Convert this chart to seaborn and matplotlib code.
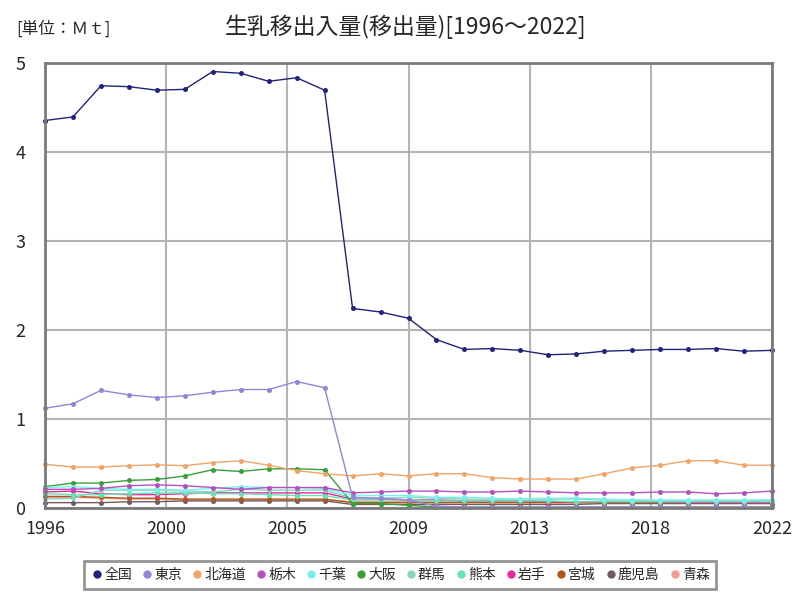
import matplotlib
matplotlib.use("Agg")
import matplotlib.pyplot as plt
from matplotlib.lines import Line2D
import seaborn as sns
import pandas as pd

years = list(range(1996, 2023))

zenkoku = [4.35, 4.39, 4.74, 4.73, 4.69, 4.70, 4.90, 4.88, 4.79, 4.83, 4.69, 2.24, 2.20, 2.13, 1.89,
           1.78, 1.79, 1.77, 1.72, 1.73, 1.76, 1.77, 1.78, 1.78, 1.79, 1.76, 1.77]
tokyo = [1.12, 1.17, 1.32, 1.27, 1.24, 1.26, 1.30, 1.33, 1.33, 1.42, 1.35, 0.12, 0.11, 0.09, 0.02,
         0.01, 0.01, 0.01, 0.01, 0.01, 0.01, 0.01, 0.01, 0.01, 0.01, 0.01, 0.01]
hokkaido = [0.49, 0.46, 0.46, 0.475, 0.485, 0.475, 0.51, 0.53, 0.48, 0.42, 0.385, 0.36, 0.385, 0.36, 0.385,
            0.385, 0.34, 0.325, 0.325, 0.325, 0.385, 0.45, 0.48, 0.53, 0.53, 0.48, 0.48]
tochigi = [0.21, 0.21, 0.22, 0.25, 0.26, 0.25, 0.23, 0.21, 0.23, 0.23, 0.23, 0.17, 0.18, 0.19, 0.19,
           0.18, 0.18, 0.19, 0.18, 0.17, 0.17, 0.17, 0.18, 0.18, 0.16, 0.17, 0.19]
chiba = [0.23, 0.24, 0.22, 0.21, 0.21, 0.20, 0.22, 0.24, 0.23, 0.23, 0.22, 0.14, 0.14, 0.14, 0.12,
         0.12, 0.11, 0.10, 0.11, 0.11, 0.10, 0.09, 0.09, 0.09, 0.09, 0.09, 0.09]
osaka = [0.24, 0.28, 0.28, 0.31, 0.32, 0.36, 0.43, 0.41, 0.44, 0.44, 0.43, 0.05, 0.05, 0.03, 0.01,
         0.01, 0.01, 0.01, 0.01, 0.01, 0.01, 0.01, 0.01, 0.01, 0.01, 0.01, 0.01]
gunma = [0.10, 0.11, 0.20, 0.20, 0.20, 0.19, 0.18, 0.21, 0.20, 0.20, 0.20, 0.11, 0.11, 0.12, 0.11,
         0.10, 0.10, 0.10, 0.10, 0.10, 0.09, 0.09, 0.08, 0.08, 0.08, 0.08, 0.09]
kumamoto = [0.16, 0.15, 0.15, 0.16, 0.17, 0.17, 0.16, 0.16, 0.15, 0.14, 0.14, 0.09, 0.09, 0.09, 0.08,
            0.08, 0.08, 0.08, 0.08, 0.07, 0.07, 0.07, 0.07, 0.07, 0.07, 0.07, 0.07]
iwate = [0.18, 0.19, 0.16, 0.15, 0.15, 0.16, 0.17, 0.17, 0.17, 0.17, 0.17, 0.10, 0.10, 0.09, 0.09,
         0.08, 0.08, 0.08, 0.07, 0.07, 0.07, 0.07, 0.07, 0.06, 0.06, 0.06, 0.06]
miyagi = [0.13, 0.13, 0.12, 0.11, 0.11, 0.10, 0.10, 0.10, 0.10, 0.10, 0.10, 0.06, 0.06, 0.06, 0.06,
          0.06, 0.06, 0.06, 0.06, 0.06, 0.06, 0.06, 0.06, 0.06, 0.06, 0.06, 0.06]
kagoshima = [0.06, 0.06, 0.06, 0.07, 0.07, 0.08, 0.08, 0.08, 0.08, 0.08, 0.08, 0.04, 0.04, 0.04, 0.04,
             0.04, 0.04, 0.04, 0.04, 0.04, 0.05, 0.05, 0.05, 0.05, 0.05, 0.05, 0.05]
aomori = [0.12, 0.12, 0.11, 0.10, 0.10, 0.09, 0.09, 0.09, 0.09, 0.09, 0.09, 0.07, 0.07, 0.07, 0.07,
          0.07, 0.07, 0.07, 0.07, 0.07, 0.07, 0.06, 0.06, 0.06, 0.06, 0.06, 0.06]

series_names = ["全国", "東京", "北海道", "栃木", "千葉", "大阪", "群馬", "熊本", "岩手", "宮城", "鹿児島", "青森"]
series_values = [zenkoku, tokyo, hokkaido, tochigi, chiba, osaka, gunma, kumamoto, iwate, miyagi, kagoshima, aomori]
colors = ["#22227a", "#9385d8", "#f0a468", "#b352bd", "#78f0ee", "#38a038",
          "#88d4c0", "#66e2b4", "#e8289e", "#b05818", "#705a62", "#f39a92"]

xtick_labels = ["1996", "2000", "2005", "2009", "2013", "2018", "2022"]
ytick_labels = ["0", "1", "2", "3", "4", "5"]

rows = []
for name, vals in zip(series_names, series_values):
    for y, v in zip(years, vals):
        rows.append({"year": y, "value": v, "series": name})
df = pd.DataFrame(rows)

sns.set_style("white")
plt.rcParams["font.family"] = ["Noto Sans CJK JP", "DejaVu Sans"]

fig = plt.figure(figsize=(8, 6), dpi=100)
ax = fig.add_axes([45 / 800, 1 - 508 / 600, (772 - 45) / 800, (508 - 62.6) / 600])

# draw lower series first, 全国 last on top
order = list(range(len(series_names)))[::-1]
for i in order:
    name = series_names[i]
    sub = df[df["series"] == name]
    sns.lineplot(data=sub, x="year", y="value", ax=ax, color=colors[i], linewidth=1.0,
                 marker="o", markersize=3.6, markeredgewidth=0, legend=False, clip_on=False)

ax.set_xlim(1996, 2022)
ax.set_ylim(0, 5)
xt = [1996 + 26 * k / 6 for k in range(7)]
ax.set_xticks(xt)
ax.set_xticklabels(xtick_labels, fontsize=13)
ax.set_yticks(range(6))
ax.set_yticklabels(ytick_labels, fontsize=13)
ax.tick_params(axis="both", length=0)
ax.tick_params(axis="x", pad=9)
ax.tick_params(axis="y", pad=14)
ax.set_xlabel("")
ax.set_ylabel("")
ax.grid(True, color="#b4b4b4", linewidth=1.5)
ax.set_axisbelow(True)
for sp in ax.spines.values():
    sp.set_color("#7a7a7a")
    sp.set_linewidth(2)

fig.text(0.507, 0.955, "生乳移出入量(移出量)[1996～2022]", ha="center", va="center", fontsize=16.5)
fig.text(0.02, 0.952, "[単位：Ｍｔ]", ha="left", va="center", fontsize=12)

handles = [Line2D([0], [0], marker="o", linestyle="none", markersize=6, markeredgewidth=0,
                  color=c) for c in colors]
leg = fig.legend(handles, series_names, loc="center", bbox_to_anchor=(0.5, 0.042), ncol=12,
                 fontsize=10, frameon=True, fancybox=False, handletextpad=0.0,
                 columnspacing=0.6, borderpad=0.5, handlelength=1.0)
leg.get_frame().set_edgecolor("#7a7a7a")
leg.get_frame().set_linewidth(2)

fig.savefig("out.png", dpi=100)
